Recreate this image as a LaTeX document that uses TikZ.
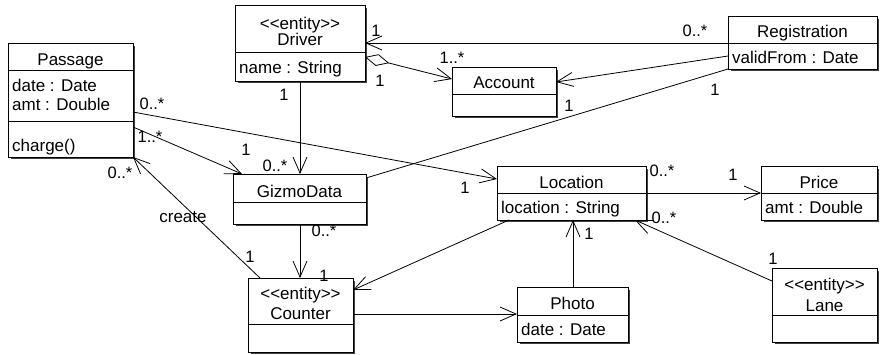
\documentclass[tikz,border=0pt]{standalone}
\usepackage{fontspec}
\setmainfont{Liberation Sans}
\usetikzlibrary{arrows.meta}

\tikzset{
  cls/.style={draw, line width=0.8pt, inner sep=0pt, outer sep=0pt, fill=white},
  shadowline/.style={line width=1pt, black!75},
  sepline/.style={line width=0.8pt},
  txt/.style={inner sep=0pt, font=\fontsize{17}{19}\selectfont},
  title/.style={txt, anchor=base},
  attr/.style={txt, anchor=base west},
  mult/.style={inner sep=0pt, font=\fontsize{16.5}{18}\selectfont},
  link/.style={line width=0.8pt},
  nav/.style={link, -{Straight Barb[length=16pt,width=14pt]}},
  agg/.style={link, {Diamond[open,length=25pt,width=12pt]}-{Straight Barb[length=16pt,width=14pt]}},
}

% \classbox{name}{x1}{y1}{x2}{y2}{separator y list}
\newcommand\classbox[6]{%
  \node[cls, minimum width=#4-#2, minimum height=#5-#3, anchor=north west] (#1) at (#2,#3) {};
  \draw[shadowline] ([shift={(1,3)}]#1.north east) -- ([shift={(1,1)}]#1.south east) -- ([shift={(3,1)}]#1.south west);
  \foreach \s in {#6} {\draw[sepline] (#1.west |- 0,\s) -- (#1.east |- 0,\s);}
}

\begin{document}
\begin{tikzpicture}[x=1pt,y=-1pt]
\useasboundingbox (0,0) rectangle (880,354);

% class boxes
\classbox{pas}{8}{43}{133}{157}{70,121}
\classbox{drv}{235}{5}{365}{81}{52}
\classbox{acc}{452}{67}{556}{116}{94}
\classbox{reg}{728}{16}{877}{69}{43}
\classbox{giz}{233}{174}{366}{224}{202}
\classbox{cnt}{248}{278}{353}{352}{324}
\classbox{loc}{497}{166}{646}{220}{193}
\classbox{pri}{761}{166}{877}{220}{193}
\classbox{pho}{517}{287}{628}{342}{315}
\classbox{lan}{772}{268}{877}{342}{315}

% class texts
\node[title] (pasN) at (70.5,65) {Passage};
\node[attr] (pasA1) at (12,91) {date : Date};
\node[attr] (pasA2) at (12,110) {amt : Double};
\node[attr] (pasO1) at (12,151) {charge()};

\node[title] (drvS) at (300,29) {<{}<entity>{}>};
\node[title] (drvN) at (300,45) {Driver};
\node[attr] (drvA1) at (239,73) {name : String};

\node[title] (accN) at (504,88) {Account};

\node[title] (regN) at (802.5,37) {Registration};
\node[attr] (regA1) at (732,63) {validFrom : Date};

\node[title] (gizN) at (299.5,197) {GizmoData};

\node[title] (cntS) at (300.5,299) {<{}<entity>{}>};
\node[title] (cntN) at (300.5,319) {Counter};

\node[title] (locN) at (571.5,188) {Location};
\node[attr] (locA1) at (501,213) {location : String};

\node[title] (priN) at (819,188) {Price};
\node[attr] (priA1) at (765,213) {amt : Double};

\node[title] (phoN) at (572.5,309) {Photo};
\node[attr] (phoA1) at (521,335) {date : Date};

\node[title] (lanS) at (824.5,290) {<{}<entity>{}>};
\node[title] (lanN) at (824.5,311) {Lane};

% associations
\draw[nav] (reg.west |- 0,43) -- (drv.east |- 0,43);
\draw[agg] (drv.east |- 0,57) -- (acc.west |- 0,79);
\draw[nav] (reg.west |- 0,56) -- (acc.east |- 0,82);
\draw[nav] (drv.south -| 300,0) -- (giz.north -| 300,0);
\draw[nav] (pas.east |- 0,127) -- (giz.north -| 242,0);
\draw[nav] (pas.east |- 0,112) -- (loc.west |- 0,179);
\draw[link] (giz.east |- 0,178) -- (reg.south west);
\draw[nav] (cnt.north -| 260,0) -- (pas.south east);
\draw[nav] (giz.south -| 300,0) -- (cnt.north -| 300,0);
\draw[nav] (loc.south -| 509,0) -- (cnt.east |- 0,290);
\draw[nav] (cnt.east |- 0,314) -- (pho.west |- 0,314);
\draw[nav] (pho.north -| 573,0) -- (loc.south -| 573,0);
\draw[nav] (loc.east |- 0,193) -- (pri.west |- 0,193);
\draw[nav] (lan.west |- 0,281) -- (loc.south -| 635,0);

% multiplicities and role labels
\node[mult] (m1) at (376,31) {1};
\node[mult] (m2) at (695,31) {0..*};
\node[mult] (m3) at (380,81) {1};
\node[mult] (m4) at (452,58) {1..*};
\node[mult] (m5) at (569,106) {1};
\node[mult] (m6) at (715,90) {1};
\node[mult] (m7) at (284,95) {1};
\node[mult] (m8) at (275,166) {0..*};
\node[mult] (m9) at (150,137) {1..*};
\node[mult] (m10) at (246,150) {1};
\node[mult] (m11) at (152,104) {0..*};
\node[mult] (m12) at (465,188) {1};
\node[mult] (m13) at (120,173) {0..*};
\node[txt] (lblCreate) at (183,217) {create};
\node[mult] (m14) at (250,257) {1};
\node[mult] (m15) at (324,231) {0..*};
\node[mult] (m16) at (324,276) {1};
\node[mult] (m17) at (589,234) {1};
\node[mult] (m18) at (662,171) {0..*};
\node[mult] (m19) at (733,175) {1};
\node[mult] (m20) at (664,218) {0..*};
\node[mult] (m21) at (773,259) {1};
\end{tikzpicture}
\end{document}
